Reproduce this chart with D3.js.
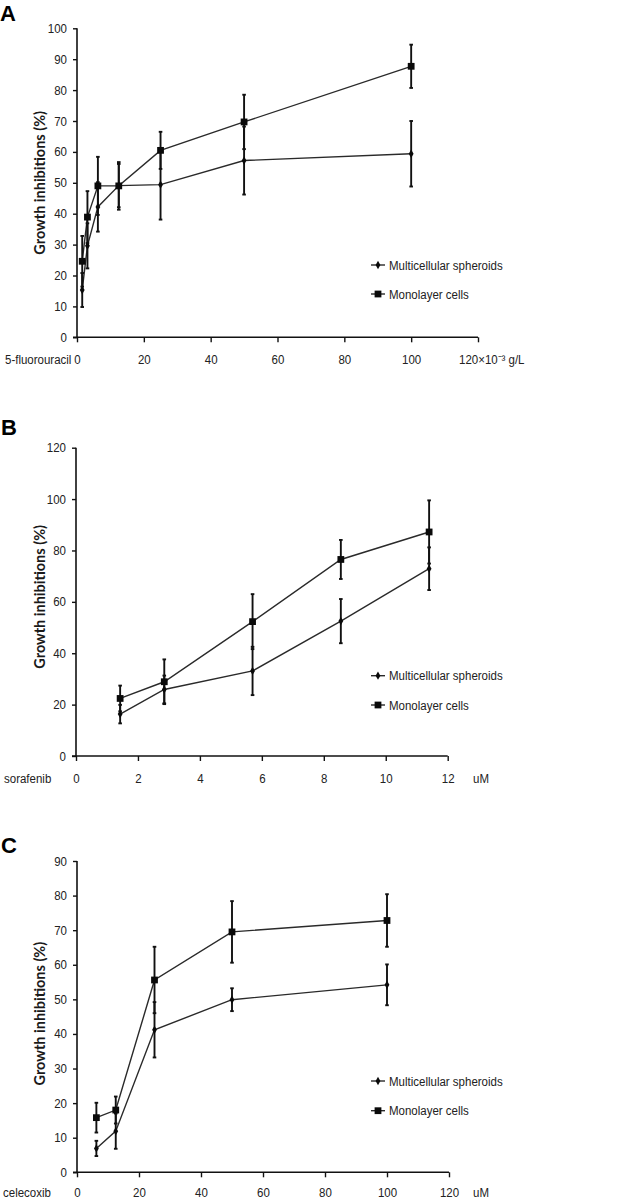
<!DOCTYPE html>
<html><head><meta charset="utf-8">
<script src="https://cdn.jsdelivr.net/npm/d3@7"></script>
<style>
html,body{margin:0;padding:0;background:#fff;}
svg{display:block;}
.tick text{font-family:"Liberation Sans",Arial,sans-serif;font-size:12.5px;fill:#222;}
</style></head>
<body>
<svg id="chart" width="632" height="1199"></svg>
<script>
// ---------- Data ----------
const seriesNames = ["Multicellular spheroids", "Monolayer cells"];

// Panel A: 5-fluorouracil (x10^-3 g/L)
const xA = [1.5625, 3.125, 6.25, 12.5, 25, 50, 100];
const spheroidA = [15.3, 29.6, 42.2, 49.1, 49.4, 57.2, 59.4];
const spheroidErrA = [5.5, 7.3, 8.0, 7.0, 11.3, 11.0, 10.6];
const monolayerA = [24.6, 38.9, 49.0, 49.0, 60.5, 69.7, 87.7];
const monolayerErrA = [8.2, 8.4, 9.4, 7.7, 6.0, 8.8, 7.0];
const xTicksA = [0, 20, 40, 60, 80, 100];
const yTicksA = [0, 10, 20, 30, 40, 50, 60, 70, 80, 90, 100];

// Panel B: sorafenib (uM)
const xB = [1.425, 2.85, 5.7, 8.55, 11.4];
const spheroidB = [16.3, 25.9, 33.1, 52.5, 72.9];
const spheroidErrB = [3.6, 5.4, 9.4, 8.6, 8.3];
const monolayerB = [22.4, 28.9, 52.3, 76.5, 87.2];
const monolayerErrB = [5.0, 8.7, 10.7, 7.6, 12.3];
const xTicksB = [0, 2, 4, 6, 8, 10, 12];
const yTicksB = [0, 20, 40, 60, 80, 100, 120];

// Panel C: celecoxib (uM)
const xC = [6.25, 12.5, 25, 50, 100];
const spheroidC = [6.9, 11.9, 41.2, 49.9, 54.2];
const spheroidErrC = [2.2, 5.1, 8.0, 3.3, 5.9];
const monolayerC = [15.8, 18.0, 55.6, 69.5, 72.8];
const monolayerErrC = [4.3, 3.9, 9.6, 8.9, 7.6];
const xTicksC = [0, 20, 40, 60, 80, 100, 120];
const yTicksC = [0, 10, 20, 30, 40, 50, 60, 70, 80, 90];

// ---------- Drawing ----------
const svg = d3.select("#chart");
const FONT = '"Liberation Sans", Arial, sans-serif';
const SX = 0.92; // horizontal squeeze of the reference lettering

function ntext(g, x, y, str, anchor) {
  return g.append("text")
    .attr("transform", `translate(${x},${y}) scale(${SX},1)`)
    .attr("text-anchor", anchor || "start")
    .attr("font-family", FONT).attr("font-size", 12.5).attr("fill", "#222").text(str);
}

function panel(cfg) {
  const g = svg.append("g");
  const x = d3.scaleLinear().domain(cfg.xDomain).range([cfg.left, cfg.right]);
  const y = d3.scaleLinear().domain(cfg.yDomain).range([cfg.bottom, cfg.top]);

  // panel letter
  g.append("text").attr("x", cfg.letterX).attr("y", cfg.letterY)
    .attr("font-family", FONT).attr("font-weight", "bold")
    .attr("font-size", 22).attr("fill", "#000").text(cfg.letter);

  // y axis
  const ya = g.append("g").attr("transform", `translate(${cfg.left},0)`)
    .call(d3.axisLeft(y).tickValues(cfg.yTicks).tickSize(4).tickPadding(0).tickSizeOuter(0));
  ya.select(".domain").attr("stroke", "#111").attr("stroke-width", 1.6)
    .attr("d", `M0,${cfg.bottom}V${cfg.top}`);
  ya.selectAll(".tick line").attr("stroke", "#111").attr("stroke-width", 1.4);
  ya.selectAll(".tick text").attr("x", null)
    .attr("transform", `translate(-10,0) scale(${SX},1)`);

  // x axis
  const xa = g.append("g").attr("transform", `translate(0,${cfg.bottom})`)
    .call(d3.axisBottom(x).tickValues(cfg.xTickMarks).tickSize(5).tickPadding(0).tickSizeOuter(0)
      .tickFormat(d => cfg.xTicks.includes(d) ? d : ""));
  xa.select(".domain").attr("stroke", "#111").attr("stroke-width", 1.6)
    .attr("d", `M${cfg.left - 4},0H${cfg.right}`);
  xa.selectAll(".tick line").attr("stroke", "#111").attr("stroke-width", 1.4);
  xa.selectAll(".tick text").attr("dy", null).attr("y", null)
    .attr("transform", `translate(0,${cfg.labelOff}) scale(${SX},1)`);

  // x label left and unit right
  ntext(g, cfg.drugX, cfg.bottom + cfg.labelOff, cfg.drug);
  ntext(g, cfg.unitX, cfg.bottom + cfg.labelOff, cfg.unit);

  // y title
  g.append("text")
    .attr("transform", `translate(${cfg.titleX},${(cfg.top + cfg.bottom) / 2 + cfg.titleDy}) rotate(-90)`)
    .attr("text-anchor", "middle").attr("font-family", "Lato, 'Open Sans', sans-serif")
    .attr("font-weight", "bold").attr("font-size", 14.5).attr("fill", "#1a1a1a")
    .text("Growth inhibitions (%)");

  const series = [
    {name: seriesNames[0], vals: cfg.sph, err: cfg.sphErr, shape: "diamond"},
    {name: seriesNames[1], vals: cfg.mono, err: cfg.monoErr, shape: "square"}
  ];

  const line = d3.line().x(d => x(d[0])).y(d => y(d[1]));
  series.forEach(s => {
    const pts = cfg.xs.map((xv, i) => [xv, s.vals[i], s.err[i]]);
    g.append("path").attr("d", line(pts)).attr("fill", "none")
      .attr("stroke", "#2a2a2a").attr("stroke-width", 1.4);
    s.pts = pts;
  });
  series.forEach(s => {
    const eb = g.append("g").attr("stroke", "#111").attr("stroke-width", 1.9);
    s.pts.forEach(p => {
      const cx = x(p[0]), y1 = y(p[1] - p[2]), y2 = y(p[1] + p[2]);
      eb.append("line").attr("x1", cx).attr("x2", cx).attr("y1", y1).attr("y2", y2);
      eb.append("line").attr("x1", cx - 1.8).attr("x2", cx + 1.8).attr("y1", y1).attr("y2", y1);
      eb.append("line").attr("x1", cx - 1.8).attr("x2", cx + 1.8).attr("y1", y2).attr("y2", y2);
    });
  });
  const diamond = d3.symbol().type(d3.symbolDiamond).size(20);
  const square = d3.symbol().type(d3.symbolSquare).size(46);
  series.forEach(s => {
    g.selectAll(null).data(s.pts).join("path")
      .attr("transform", d => `translate(${x(d[0])},${y(d[1])})`)
      .attr("d", s.shape === "diamond" ? diamond : square)
      .attr("fill", "#0a0a0a");
  });

  // legend
  series.forEach((s, i) => {
    const ly = cfg.legendY[i];
    const lg = g.append("g");
    lg.append("line").attr("x1", cfg.legendX).attr("x2", cfg.legendX + 14)
      .attr("y1", ly).attr("y2", ly).attr("stroke", "#2a2a2a").attr("stroke-width", 1.4);
    lg.append("path").attr("transform", `translate(${cfg.legendX + 7},${ly})`)
      .attr("d", s.shape === "diamond" ? diamond : square).attr("fill", "#0a0a0a");
    ntext(lg, cfg.legendX + 18, ly + 4.5, s.name);
  });
}

panel({
  letter: "A", letterX: 0, letterY: 20.5,
  left: 77, right: 478, top: 28.3, bottom: 337.3, labelOff: 26.5,
  xDomain: [0, 120], yDomain: [0, 100],
  xTicks: xTicksA, xTickMarks: xTicksA.concat([120]), yTicks: yTicksA,
  xs: xA, sph: spheroidA, sphErr: spheroidErrA, mono: monolayerA, monoErr: monolayerErrA,
  drug: "5-fluorouracil", drugX: 5, unit: "120×10\u207B\u00B3 g/L", unitX: 459,
  titleX: 45, titleDy: 0, legendX: 371, legendY: [265, 294]
});

panel({
  letter: "B", letterX: 1, letterY: 435,
  left: 76, right: 447.7, top: 447.7, bottom: 756, labelOff: 26.5,
  xDomain: [0, 12], yDomain: [0, 120],
  xTicks: xTicksB, xTickMarks: xTicksB, yTicks: yTicksB,
  xs: xB, sph: spheroidB, sphErr: spheroidErrB, mono: monolayerB, monoErr: monolayerErrB,
  drug: "sorafenib", drugX: 4, unit: "uM", unitX: 473,
  titleX: 45, titleDy: -5, legendX: 371, legendY: [675.7, 705]
});

panel({
  letter: "C", letterX: 1, letterY: 853,
  left: 77, right: 449, top: 861, bottom: 1172.3, labelOff: 24.5,
  xDomain: [0, 120], yDomain: [0, 90],
  xTicks: xTicksC, xTickMarks: xTicksC, yTicks: yTicksC,
  xs: xC, sph: spheroidC, sphErr: spheroidErrC, mono: monolayerC, monoErr: monolayerErrC,
  drug: "celecoxib", drugX: 3, unit: "uM", unitX: 473,
  titleX: 45, titleDy: -3, legendX: 371, legendY: [1081, 1110.7]
});
</script>
</body></html>
